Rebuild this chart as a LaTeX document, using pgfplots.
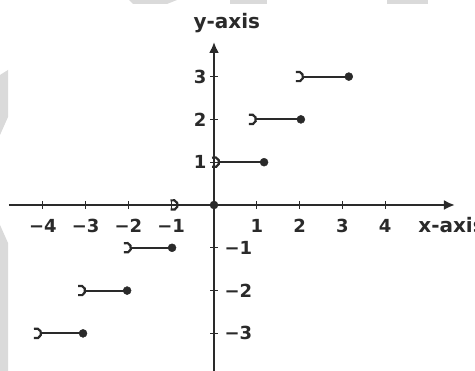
\documentclass[border=0pt]{standalone}
\usepackage{fontspec}
\setmainfont{DejaVu Sans}
\usepackage{pgfplots}
\pgfplotsset{compat=1.18}
\usetikzlibrary{arrows.meta}

\definecolor{ink}{HTML}{2A2A2A}
\definecolor{wm}{HTML}{DADADA}

% open end of a step: a ")"-shaped arc whose right side sits on the point
\pgfdeclareplotmark{openend}{%
  \pgfpathmoveto{\pgfpointadd{\pgfqpoint{-\pgfplotmarksize}{0pt}}{\pgfpointpolar{115}{\pgfplotmarksize}}}%
  \pgfpatharc{115}{-115}{\pgfplotmarksize}%
  \pgfusepathqstroke
}

\begin{document}
\begin{tikzpicture}
  \fill[white] (0,0) rectangle (475pt,371pt);
  \useasboundingbox (0,0) rectangle (475pt,371pt);
  % faint background shapes along the edges
  \fill[wm] (129pt,371pt) -- (177pt,371pt) -- (167pt,367pt) -- (133pt,367pt) -- cycle;
  \fill[wm] (230pt,371pt) rectangle (267pt,367pt);
  \fill[wm] (387pt,371pt) rectangle (428pt,367pt);
  \fill[wm] (0pt,296pt) -- (8pt,301pt) -- (8pt,254pt) -- (0pt,236pt) -- cycle;
  \fill[wm] (0pt,146pt) -- (8pt,128pt) -- (8pt,0pt) -- (0pt,0pt) -- cycle;

  \begin{axis}[
    x=42.8pt, y=42.8pt,
    anchor=origin, at={(214pt,166pt)},
    xmin=-4.79, xmax=5.63, ymin=-4.2, ymax=3.81,
    axis lines=middle,
    clip=false,
    axis line style={ink, line width=2.2pt, -{Latex[length=11pt,width=10pt]}},
    tick style={ink, line width=1.3pt},
    major tick length=8pt,
    xtick={-4,-3,-2,-1,1,2,3,4},
    xticklabels={−4,−3,−2,−1,1,2,3,4},
    ytick={1,2,3},
    yticklabels={1,2,3},
    extra y ticks={-3,-2,-1},
    extra y tick labels={−3,−2,−1},
    extra y tick style={yticklabel style={anchor=west, xshift=11pt}},
    tick label style={font=\fontsize{18}{18}\selectfont\bfseries, text=ink},
    xticklabel style={anchor=north, yshift=-7pt},
    yticklabel style={anchor=east, xshift=0pt},
  ]
    % horizontal pieces of the step function
    \addplot[ink, line width=2pt] coordinates {(2.08,3) (3.15,3)};
    \addplot[ink, line width=2pt] coordinates {(0.98,2) (2.03,2)};
    \addplot[ink, line width=2pt] coordinates {(0.12,1) (1.17,1)};
    \addplot[ink, line width=2pt] coordinates {(-1.94,-1) (-0.98,-1)};
    \addplot[ink, line width=2pt] coordinates {(-3.01,-2) (-2.03,-2)};
    \addplot[ink, line width=2pt] coordinates {(-4.04,-3) (-3.06,-3)};
    % included right ends
    \addplot[only marks, mark=*, mark size=4pt, ink] coordinates {
      (3.15,3) (2.03,2) (1.17,1) (0,0) (-0.98,-1) (-2.03,-2) (-3.06,-3)};
    % excluded left ends
    \addplot[only marks, mark=openend, mark size=5pt, line width=2.2pt, ink] coordinates {
      (2.08,3) (0.98,2) (0.12,1) (-0.85,0) (-1.94,-1) (-3.01,-2) (-4.04,-3)};

    \node[font=\fontsize{20}{20}\selectfont\bfseries, text=ink, anchor=base]
      at (axis cs:0.30,4.12) {y-axis};
    \node[font=\fontsize{20}{20}\selectfont\bfseries, text=ink, anchor=base west, inner sep=0pt]
      at (axis cs:4.77,-0.654) {x-axis};
  \end{axis}
\end{tikzpicture}
\end{document}
